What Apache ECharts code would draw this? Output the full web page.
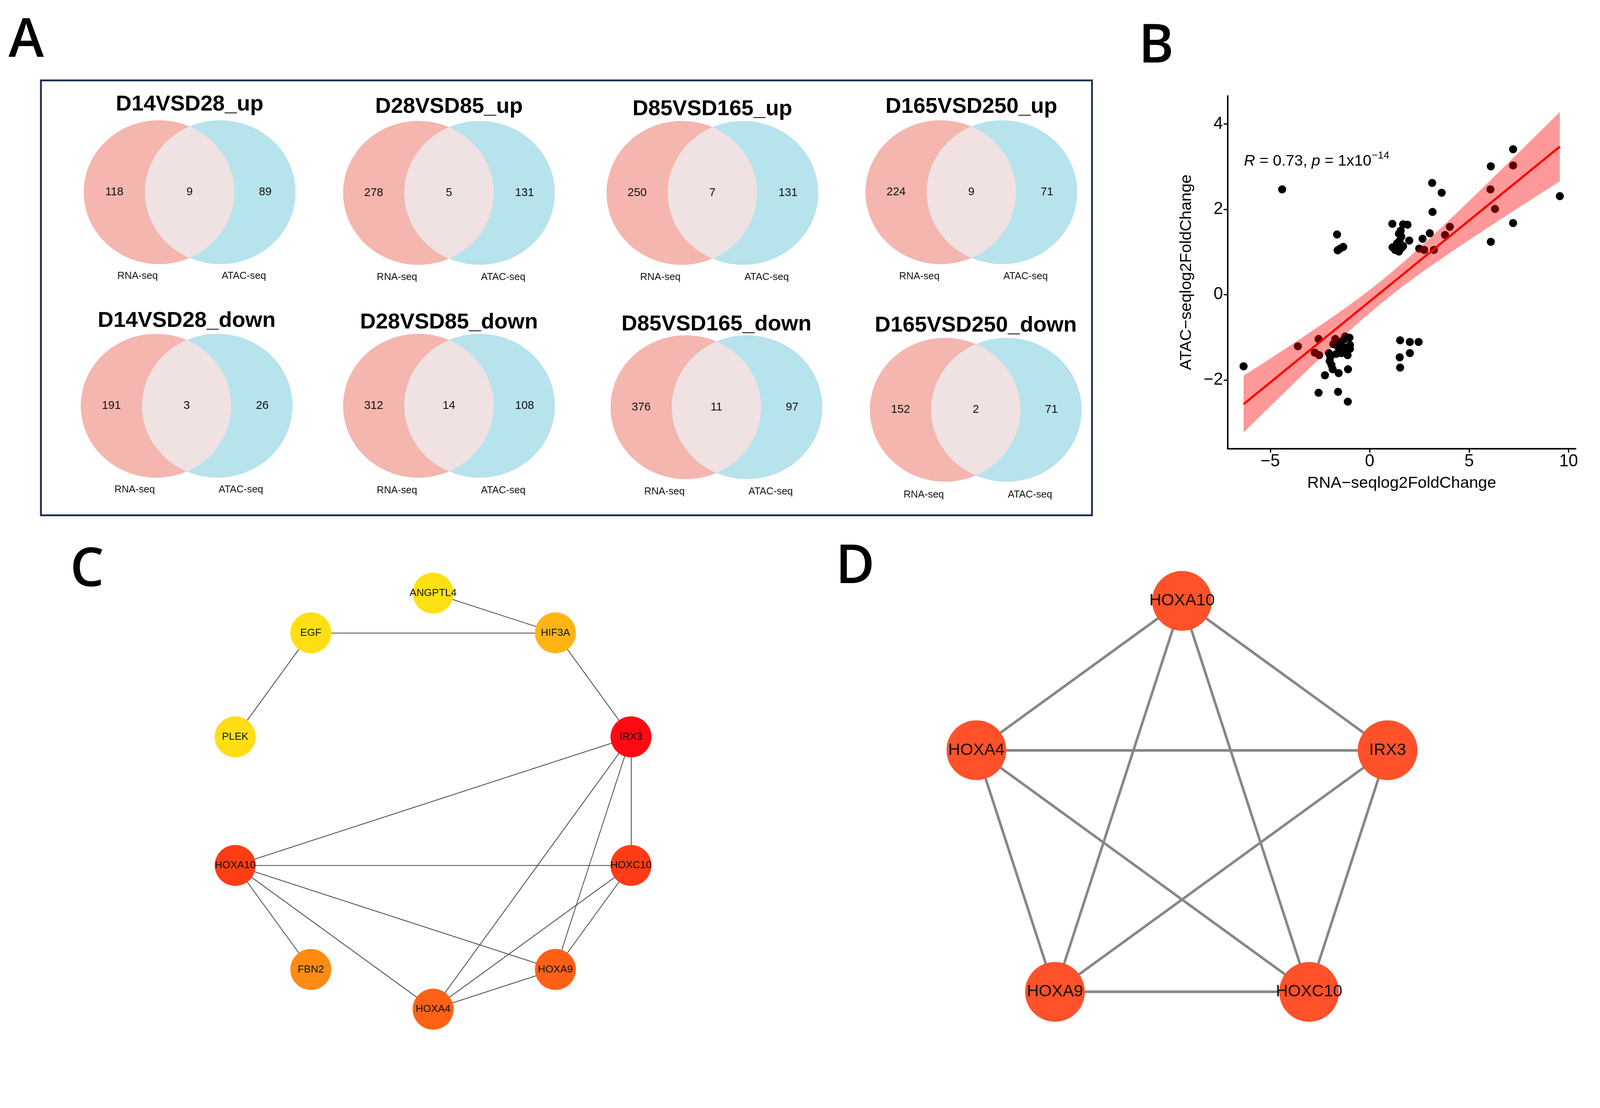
<!DOCTYPE html>
<html><head><meta charset="utf-8">
<script src="https://cdn.jsdelivr.net/npm/echarts@6/dist/echarts.min.js"></script>
<style>html,body{margin:0;padding:0;background:#fff;overflow:hidden}#c{position:absolute;left:0;top:0}</style>
</head><body><div id="c"></div>
<script>
// ================= DATA =================
// Panel A – Venn counts
const vennTitles = ['D14VSD28_up','D28VSD85_up','D85VSD165_up','D165VSD250_up',
                    'D14VSD28_down','D28VSD85_down','D85VSD165_down','D165VSD250_down'];
const rnaOnly  = [118,278,250,224,191,312,376,152];
const overlap  = [9,5,7,9,3,14,11,2];
const atacOnly = [89,131,131,71,26,108,97,71];
const setLabels = ['RNA-seq','ATAC-seq'];

// Panel B – scatter (RNA-seq vs ATAC-seq log2FoldChange)
const rnaLFC = [-6.34,-4.40,-3.61,
  -2.57,-2.76,-2.54,-2.57,-2.25,-1.59,-1.10,-1.09,-1.56,-1.86,-1.92,-2.01,-1.98,-2.05,-1.73,-1.83,
  -1.02,-1.23,-0.99,-1.42,-1.61,-1.37,-1.11,-0.99,-1.17,-1.42,-1.68,-1.30,-1.50,
  -1.64,-1.61,-1.49,-1.33,
  1.14,1.68,1.90,1.56,1.47,1.59,1.99,1.15,1.37,1.61,1.47,1.28,1.68,1.50,
  3.02,2.66,2.49,2.74,3.23,3.79,4.03,3.16,3.14,3.62,
  1.53,2.02,2.46,2.02,1.51,1.53,
  6.07,6.09,6.30,6.09,7.21,7.21,7.21,9.56];
const atacLFC = [-1.68,2.47,-1.21,
  -1.04,-1.36,-1.42,-2.30,-1.89,-2.28,-2.51,-1.75,-1.84,-1.75,-1.65,-1.56,-1.46,-1.37,-1.04,-1.16,
  -1.01,-0.98,-1.18,-1.10,-1.21,-1.30,-1.42,-1.27,-1.24,-1.37,-1.39,-1.05,-1.15,
  1.41,1.04,1.08,1.12,
  1.66,1.65,1.64,1.50,1.43,1.36,1.27,1.11,1.20,1.10,1.01,1.05,1.14,1.26,
  1.44,1.31,1.08,1.05,1.05,1.40,1.59,1.94,2.62,2.39,
  -1.07,-1.11,-1.11,-1.37,-1.47,-1.71,
  2.47,3.01,2.01,1.24,3.41,3.03,1.68,2.31];
const xTicks = [-5,0,5,10];
const yTicks = [-2,0,2,4];
const corR = '0.73';
const corPMant = '1';
const corPExp = '\u221214';

// Panel C – network
const netCNodes  = ['HOXC10','HOXA9','HOXA4','FBN2','HOXA10','PLEK','EGF','ANGPTL4','HIF3A','IRX3'];
const netCColors = ['#FF3C17','#FF6016','#FF6215','#FF8B13','#FF3D15','#FFDE14','#FFDF14','#FFE014','#FFB414','#FF0A14'];
const netCEdges = [['ANGPTL4','HIF3A'],['EGF','HIF3A'],['EGF','PLEK'],['HIF3A','IRX3'],
  ['IRX3','HOXA10'],['IRX3','HOXC10'],['IRX3','HOXA4'],['IRX3','HOXA9'],
  ['HOXA10','HOXC10'],['HOXA10','FBN2'],['HOXA10','HOXA4'],['HOXA10','HOXA9'],
  ['HOXC10','HOXA4'],['HOXC10','HOXA9'],['HOXA9','HOXA4']];

// Panel D – hub network
const netDNodes = ['HOXA10','IRX3','HOXC10','HOXA9','HOXA4'];
const netDEdges = [['HOXA10','IRX3'],['HOXA10','HOXC10'],['HOXA10','HOXA9'],['HOXA10','HOXA4'],
  ['IRX3','HOXC10'],['IRX3','HOXA9'],['IRX3','HOXA4'],['HOXC10','HOXA9'],['HOXC10','HOXA4'],['HOXA9','HOXA4']];

// ================= LAYOUT / STYLE =================
const W = window.innerWidth || 4337, H = window.innerHeight || 2837;
const S = Math.min(W/4337, H/2837);
const px = v => v*S;
const el = document.getElementById('c'); el.style.width = W+'px'; el.style.height = H+'px';

const FONT = "'Liberation Sans', Arial, Helvetica, sans-serif";
const vennLayout = [
  {cx:514, cy:521, ty:283, ly:749},{cx:1217, cy:523, ty:290, ly:752},
  {cx:1931, cy:523, ty:296, ly:752},{cx:2633, cy:521, ty:290, ly:750},
  {cx:506, cy:1100, ty:870, ly:1328},{cx:1217, cy:1100, ty:874, ly:1330},
  {cx:1942, cy:1104, ty:880, ly:1333},{cx:2645, cy:1111, ty:883, ly:1341}];
const VRX = 204, VRY = 195, VD = 83;

function ellipsePts(cx, cy, rx, ry, n){
  const p=[]; for(let k=0;k<n;k++){const t=2*Math.PI*k/n; p.push([px(cx+rx*Math.cos(t)), px(cy+ry*Math.sin(t))]);} return p;
}
function lensPts(cx, cy){
  const t0 = Math.acos(VD/VRX), N=80, p=[];
  for(let k=0;k<=N;k++){const t=-t0+2*t0*k/N; p.push([px(cx-VD+VRX*Math.cos(t)), px(cy+VRY*Math.sin(t))]);}
  for(let k=0;k<=N;k++){const t=t0-2*t0*k/N; p.push([px(cx+VD-VRX*Math.cos(t)), px(cy+VRY*Math.sin(t))]);}
  return p;
}
function txt(x,y,text,size,opts){
  return {type:'text', x:px(x), y:px(y), silent:true, z:10,
    style:Object.assign({text:text, fontSize:px(size), fontFamily:FONT, fill:'#111', align:'center', verticalAlign:'middle'}, (opts||{}))};
}

const graphics = [];
graphics.push({type:'rect', shape:{x:px(111),y:px(218),width:px(2849),height:px(1179)}, style:{fill:'none', stroke:'#1F2F52', lineWidth:px(5)}, z:1});
vennTitles.forEach(function(title,i){
  const L = vennLayout[i];
  graphics.push({type:'polygon', shape:{points:ellipsePts(L.cx-VD, L.cy, VRX, VRY, 240)}, style:{fill:'#F4B6AE'}, z:2});
  graphics.push({type:'polygon', shape:{points:ellipsePts(L.cx+VD, L.cy, VRX, VRY, 240)}, style:{fill:'#B7E3EC'}, z:2});
  graphics.push({type:'polygon', shape:{points:lensPts(L.cx, L.cy)}, style:{fill:'#F0E1E3'}, z:3});
  graphics.push(txt(L.cx, L.ty, title, 59, {fontWeight:'bold', fill:'#000'}));
  graphics.push(txt(L.cx-204, L.cy, String(rnaOnly[i]), 31));
  graphics.push(txt(L.cx, L.cy, String(overlap[i]), 31));
  graphics.push(txt(L.cx+205, L.cy, String(atacOnly[i]), 31));
  graphics.push(txt(L.cx-141, L.ly, setLabels[0], 27));
  graphics.push(txt(L.cx+147, L.ly, setLabels[1], 27));
});
const LETTER_FONT = "'Open Sans', 'Noto Sans', sans-serif";
[['A',71,112],['B',3134,128],['C',236,1548],['D',2318,1540]].forEach(function(a){
  graphics.push(txt(a[1],a[2],a[0],145,{fontFamily:LETTER_FONT, fontWeight:600, fill:'#000'}));
});

(function(){
  const cv=document.createElement('canvas').getContext('2d');
  const fs = px(42);
  cv.font = "italic " + fs + "px " + FONT; const wR = cv.measureText('R').width; const wp = cv.measureText('p').width;
  cv.font = fs + "px " + FONT; const w1 = cv.measureText(' = ' + corR + ', ').width; const w2 = cv.measureText(' = ' + corPMant + 'x10').width;
  const x0 = px(3372), yc = px(437);
  graphics.push({type:'text', x:x0, y:yc, silent:true, z:10, style:{
    text:'{i|R}{n| = ' + corR + ', }{i|p}{n| = ' + corPMant + 'x10}', align:'left', verticalAlign:'middle',
    rich:{i:{fontStyle:'italic', fontSize:fs, fontFamily:FONT, fill:'#000'}, n:{fontSize:fs, fontFamily:FONT, fill:'#000'}}}});
  graphics.push({type:'text', x:x0+wR+w1+wp+w2+px(1), y:yc-px(15), silent:true, z:10, style:{
    text:corPExp, fontSize:px(28), fontFamily:FONT, fill:'#000', align:'left', verticalAlign:'middle'}});
})();

// ================= REGRESSION (computed from data) =================
function fitLM(xs, ys){
  const n=xs.length; let mx=0,my=0; for(let i=0;i<n;i++){mx+=xs[i];my+=ys[i];} mx/=n; my/=n;
  let sxx=0,sxy=0,syy=0; for(let i=0;i<n;i++){const dx=xs[i]-mx, dy=ys[i]-my; sxx+=dx*dx; sxy+=dx*dy; syy+=dy*dy;}
  const b=sxy/sxx, a=my-b*mx, s=Math.sqrt((syy-b*sxy)/(n-2));
  return {a:a,b:b,s:s,n:n,mx:mx,sxx:sxx};
}
function tQ975(df){ const z=1.959964; return z + (z*z*z+z)/(4*df) + (5*Math.pow(z,5)+16*z*z*z+3*z)/(96*df*df); }
const fit = fitLM(rnaLFC, atacLFC);
const tq = tQ975(fit.n-2);
const xMinD = Math.min.apply(null, rnaLFC), xMaxD = Math.max.apply(null, rnaLFC);
const gx=[], gy=[], gu=[], gl=[];
for(let i=0;i<80;i++){
  const x = xMinD + (xMaxD-xMinD)*i/79; const y = fit.a + fit.b*x;
  const se = fit.s*Math.sqrt(1/fit.n + (x-fit.mx)*(x-fit.mx)/fit.sxx);
  gx.push(x); gy.push(y); gu.push(y+tq*se); gl.push(y-tq*se);
}
const yMinD = Math.min(Math.min.apply(null, atacLFC), Math.min.apply(null, gl));
const yMaxD = Math.max(Math.max.apply(null, atacLFC), Math.max.apply(null, gu));
const xPad = 0.05*(xMaxD-xMinD), yPad = 0.05*(yMaxD-yMinD);
const minus = function(v){ return v<0 ? '\u2212'+Math.abs(v) : String(v); };

// ================= NETWORK D positions (regular pentagon layout) =================
const DR = px(586);
const netDData = netDNodes.map(function(nm,i){
  const th = (-90 + 72*i) * Math.PI/180;
  return {name:nm, x:DR*Math.cos(th), y:DR*Math.sin(th)};
});
const dxs = netDData.map(d=>d.x), dys = netDData.map(d=>d.y);
const dMinX = Math.min.apply(null,dxs), dMaxX = Math.max.apply(null,dxs), dMinY = Math.min.apply(null,dys), dMaxY = Math.max.apply(null,dys);
const D_CX = px(3204), D_CY = px(2215);

// ================= CHART =================
const chart = echarts.init(el, null, {width:W, height:H});
chart.setOption({
  backgroundColor:'#fff',
  animation:false,
  grid:{left:px(3328), top:px(260), width:px(943), height:px(956), containLabel:false},
  xAxis:{type:'value', min:xMinD-xPad, max:xMaxD+xPad, splitLine:{show:false},
    axisLine:{onZero:false, lineStyle:{color:'#000', width:px(4)}},
    axisTick:{length:px(11), lineStyle:{color:'#000', width:px(3.5)}, customValues:xTicks},
    axisLabel:{fontSize:px(46), fontFamily:FONT, color:'#000', margin:px(13), customValues:xTicks, formatter:minus},
    name:'RNA\u2212seqlog2FoldChange', nameLocation:'middle', nameGap:px(72),
    nameTextStyle:{fontSize:px(44), fontFamily:FONT, color:'#000'}},
  yAxis:{type:'value', min:yMinD-yPad, max:yMaxD+yPad, splitLine:{show:false},
    axisLine:{onZero:false, lineStyle:{color:'#000', width:px(4)}},
    axisTick:{length:px(11), lineStyle:{color:'#000', width:px(3.5)}, customValues:yTicks},
    axisLabel:{fontSize:px(46), fontFamily:FONT, color:'#000', margin:px(13), customValues:yTicks, formatter:minus},
    name:'ATAC\u2212seqlog2FoldChange', nameLocation:'middle', nameGap:px(89), nameRotate:90,
    nameTextStyle:{fontSize:px(44), fontFamily:FONT, color:'#000'}},
  graphic:{elements:graphics},
  series:[
    {type:'scatter', data:rnaLFC.map((x,i)=>[x, atacLFC[i]]), symbolSize:px(22), itemStyle:{color:'#000', opacity:1}, z:2, silent:true},
    {type:'custom', coordinateSystem:'cartesian2d', data:[[0,0]], z:3, silent:true,
      renderItem:function(params, api){
        const pts=[];
        for(let i=0;i<gx.length;i++) pts.push(api.coord([gx[i], gu[i]]));
        for(let i=gx.length-1;i>=0;i--) pts.push(api.coord([gx[i], gl[i]]));
        return {type:'polygon', shape:{points:pts}, style:{fill:'rgba(255,0,0,0.4)'}};
      }},
    {type:'line', data:gx.map((x,i)=>[x, gy[i]]), showSymbol:false, symbol:'none', z:4, silent:true,
      lineStyle:{color:'#FF0000', width:px(6)}},
    {type:'graph', layout:'circular', left:px(1174-564), top:px(2172-564), width:px(1128), height:px(1128),
      roam:false, silent:true, symbolSize:px(111), z:5,
      data:netCNodes.map((n,i)=>({name:n, itemStyle:{color:netCColors[i]}})),
      links:netCEdges.map(e=>({source:e[0], target:e[1]})),
      label:{show:true, position:'inside', fontSize:px(28), fontFamily:FONT, color:'#111'},
      lineStyle:{color:'#4a4a4a', width:px(2.2), opacity:1, curveness:0},
      emphasis:{disabled:true}},
    {type:'graph', layout:'none', left:D_CX+dMinX, top:D_CY+dMinY, width:dMaxX-dMinX, height:dMaxY-dMinY,
      roam:false, silent:true, symbolSize:px(162), z:5,
      data:netDData.map(d=>({name:d.name, x:d.x, y:d.y, itemStyle:{color:'#FF512A'}})),
      links:netDEdges.map(e=>({source:e[0], target:e[1]})),
      label:{show:true, position:'inside', fontSize:px(45), fontFamily:FONT, color:'#111'},
      lineStyle:{color:'#878787', width:px(7), opacity:1, curveness:0},
      emphasis:{disabled:true}}
  ]
});
</script>
</body></html>
